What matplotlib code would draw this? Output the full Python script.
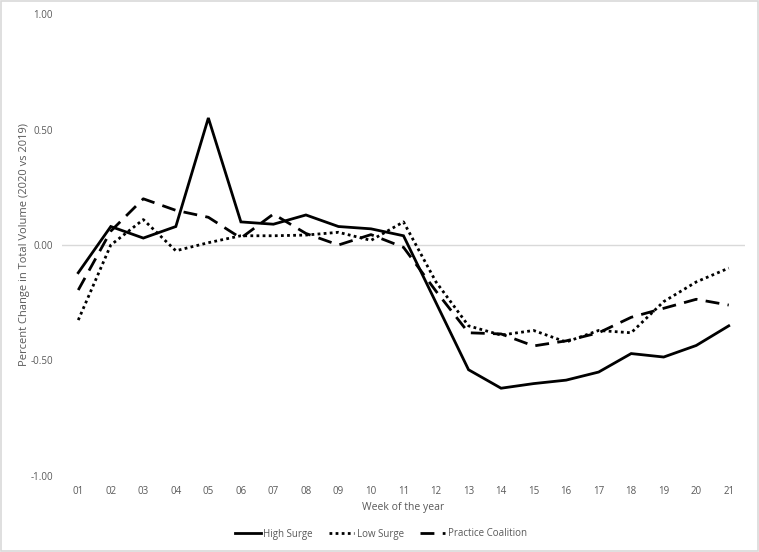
import matplotlib
matplotlib.use("Agg")
import matplotlib.pyplot as plt
from matplotlib.patches import Rectangle

weeks = ["01", "02", "03", "04", "05", "06", "07", "08", "09", "10", "11",
         "12", "13", "14", "15", "16", "17", "18", "19", "20", "21"]
high_surge = [-0.12, 0.08, 0.03, 0.08, 0.55, 0.10, 0.09, 0.13, 0.08, 0.07, 0.04,
              -0.25, -0.54, -0.62, -0.60, -0.585, -0.55, -0.47, -0.485, -0.435, -0.35]
low_surge = [-0.325, 0.00, 0.11, -0.025, 0.01, 0.04, 0.04, 0.043, 0.055, 0.02, 0.10,
             -0.16, -0.35, -0.39, -0.37, -0.42, -0.37, -0.38, -0.245, -0.16, -0.10]
practice_coalition = [-0.195, 0.06, 0.20, 0.15, 0.12, 0.03, 0.134, 0.05, 0.00, 0.045, -0.01,
                      -0.20, -0.38, -0.385, -0.437, -0.415, -0.38, -0.313, -0.274, -0.235, -0.26]
y_ticks = [-1.0, -0.5, 0.0, 0.5, 1.0]

plt.rcParams['font.family'] = ['Open Sans', 'DejaVu Sans']
fig = plt.figure(figsize=(7.59, 5.52), dpi=100)
ax = fig.add_axes([62/759, 1-476/552, (745-62)/759, (476-14)/552])

x = list(range(1, len(weeks)+1))
ax.plot(x, high_surge, color='black', lw=2.0, ls='-', label='High Surge', solid_joinstyle='miter')
ax.plot(x, low_surge, color='black', lw=2.0, ls=(0, (1, 1.2)), label='Low Surge')
ax.plot(x, practice_coalition, color='black', lw=2.0, ls=(0, (5, 3)), label='Practice Coalition')

ax.set_xlim(0.5, len(weeks)+0.5)
ax.set_ylim(-1, 1)
ax.set_xticks(x)
ax.set_xticklabels(weeks)
ax.set_yticks(y_ticks)
ax.set_yticklabels([f"{v:.2f}" for v in y_ticks])
for s in ax.spines.values():
    s.set_visible(False)
ax.axhline(0, color='#d9d9d9', lw=1, zorder=0)
ax.tick_params(length=0, labelsize=7, colors='#595959')
ax.tick_params(axis='x', pad=7)
ax.tick_params(axis='y', pad=6.5)
ax.set_xlabel('Week of the year', fontsize=7.5, color='#595959', labelpad=4)
ax.set_ylabel('Percent Change in Total Volume (2020 vs 2019)', fontsize=8, color='#595959', labelpad=0)

leg = fig.legend(loc='center', bbox_to_anchor=(381/759, 1-534/552), ncol=3, frameon=False,
                 fontsize=7, handlelength=2.6, columnspacing=1.6, handletextpad=0.3)
for t in leg.get_texts():
    t.set_color('#595959')

fig.patches.append(Rectangle((0.001, 0.001), 0.998, 0.998, transform=fig.transFigure,
                             fill=False, edgecolor='#d9d9d9', lw=1.2))
fig.savefig('out.png', dpi=100)
